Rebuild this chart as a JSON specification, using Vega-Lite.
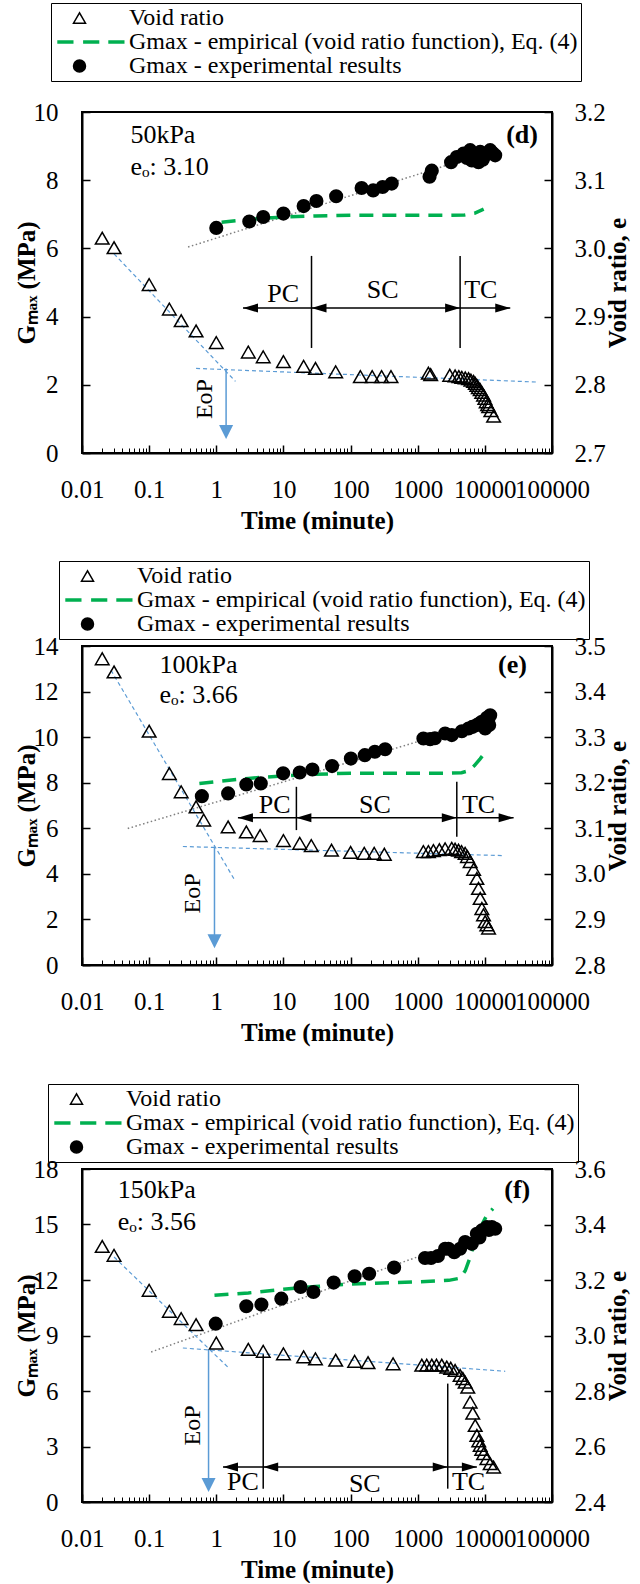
{
"$schema": "https://vega.github.io/schema/vega-lite/v6.json",
"padding": {"left": 13, "top": 1, "right": 0, "bottom": 0},
"bounds": "flush",
"spacing": 193,
"config": {
  "font": "Liberation Serif",
  "view": {"stroke": "black", "strokeWidth": 2},
  "axis": {"grid": false, "domainColor": "black", "domainWidth": 2, "tickColor": "black", "tickWidth": 1.5, "labelColor": "black", "titleColor": "black", "labelFont": "Liberation Serif", "titleFont": "Liberation Serif", "labelFontSize": 25, "titleFontSize": 25, "titleFontWeight": "bold", "labelFlush": false, "labelOverlap": false, "labelBound": false},
  "legend": {"labelFont": "Liberation Serif", "labelFontSize": 24, "labelColor": "black", "labelLimit": 1000}
},
"resolve": {"scale": {"shape": "independent", "fill": "independent", "stroke": "independent"}, "legend": {"shape": "independent", "fill": "independent", "stroke": "independent"}},
"datasets": {
  "d_void": [{"t":0.02,"e":3.015},{"t":0.03,"e":3.001},{"t":0.1,"e":2.947},{"t":0.2,"e":2.911},{"t":0.3,"e":2.894},{"t":0.5,"e":2.879},{"t":1,"e":2.862},{"t":3,"e":2.848},{"t":5,"e":2.841},{"t":10,"e":2.834},{"t":20,"e":2.827},{"t":30,"e":2.824},{"t":60,"e":2.819},{"t":140,"e":2.812},{"t":210,"e":2.812},{"t":290,"e":2.812},{"t":400,"e":2.812},{"t":1440,"e":2.817},{"t":1560,"e":2.815},{"t":3000,"e":2.814},{"t":3600,"e":2.813},{"t":4100,"e":2.812},{"t":4540,"e":2.811},{"t":5100,"e":2.81},{"t":5710,"e":2.809},{"t":6200,"e":2.807},{"t":6780,"e":2.805},{"t":7200,"e":2.802},{"t":7600,"e":2.799},{"t":8000,"e":2.796},{"t":8520,"e":2.793},{"t":9000,"e":2.789},{"t":9570,"e":2.785},{"t":10000,"e":2.78},{"t":10470,"e":2.775},{"t":11000,"e":2.771},{"t":11400,"e":2.768},{"t":12300,"e":2.762},{"t":13500,"e":2.754}],
  "d_gexp": [{"t":1,"g":6.6},{"t":3.1,"g":6.79},{"t":5,"g":6.92},{"t":10,"g":7.02},{"t":20,"g":7.24},{"t":31,"g":7.39},{"t":61,"g":7.53},{"t":146,"g":7.77},{"t":217,"g":7.7},{"t":300,"g":7.8},{"t":410,"g":7.9},{"t":1500,"g":8.1},{"t":1620,"g":8.28},{"t":3140,"g":8.53},{"t":3820,"g":8.68},{"t":4810,"g":8.78},{"t":5400,"g":8.65},{"t":6040,"g":8.88},{"t":6400,"g":8.58},{"t":7180,"g":8.73},{"t":8040,"g":8.53},{"t":8520,"g":8.83},{"t":9300,"g":8.6},{"t":10100,"g":8.73},{"t":11000,"g":8.8},{"t":12000,"g":8.88},{"t":13000,"g":8.8},{"t":14250,"g":8.73}],
  "d_gemp": [{"t":1.2,"g":6.77},{"t":3,"g":6.85},{"t":10,"g":6.92},{"t":30,"g":6.95},{"t":100,"g":6.97},{"t":1000,"g":6.97},{"t":3000,"g":6.97},{"t":5000,"g":6.98},{"t":7000,"g":7.03},{"t":9600,"g":7.15}],
  "d_trend": [{"t":0.38,"g":6.04},{"t":16000,"g":8.92}],
  "d_blue": [{"t":0.03,"e":2.992,"seg":"a"},{"t":1.93,"e":2.805,"seg":"a"},{"t":0.5,"e":2.824,"seg":"b"},{"t":60000,"e":2.804,"seg":"b"}],
  "d_eop": [{"t":1.4,"e1":2.824,"e2":2.73}],
  "d_eoph": [{"t":1.4,"e":2.7205}],
  "d_eopt": [{"t":0.668,"e":2.779,"label":"EoP"}],
  "d_vl": [{"t":26.2,"g1":3.08,"g2":5.78},{"t":4280,"g1":3.08,"g2":5.78}],
  "d_ha": [{"t1":2.5,"t2":23900,"g":4.25}],
  "d_heads": [{"t":2.5,"g":4.25,"dir":"left"},{"t":26.2,"g":4.25,"dir":"left"},{"t":4280,"g":4.25,"dir":"right"},{"t":23900,"g":4.25,"dir":"right"}],
  "d_phase": [{"t":9.9,"g":4.67,"label":"PC"},{"t":300,"g":4.77,"label":"SC"},{"t":8700,"g":4.77,"label":"TC"}],
  "d_info": [{"t":0.0526,"g":9.33,"label":"50kPa"},{"t":0.0526,"g":8.39,"label":"eₒ: 3.10"}],
  "d_tag": [{"t":61800,"g":9.33,"label":"(d)"}],

  "e_void": [{"t":0.02,"e":3.472},{"t":0.03,"e":3.443},{"t":0.1,"e":3.313},{"t":0.2,"e":3.22},{"t":0.3,"e":3.18},{"t":0.5,"e":3.147},{"t":0.65,"e":3.118},{"t":1.5,"e":3.103},{"t":2.8,"e":3.092},{"t":4.5,"e":3.084},{"t":10,"e":3.073},{"t":17.5,"e":3.067},{"t":26,"e":3.062},{"t":52,"e":3.052},{"t":100,"e":3.047},{"t":160,"e":3.045},{"t":225,"e":3.045},{"t":318,"e":3.043},{"t":1215,"e":3.049},{"t":1444,"e":3.049},{"t":1715,"e":3.051},{"t":2100,"e":3.053},{"t":2560,"e":3.055},{"t":3215,"e":3.056},{"t":3600,"e":3.054},{"t":4045,"e":3.052},{"t":4500,"e":3.049},{"t":5085,"e":3.045},{"t":5500,"e":3.038},{"t":6040,"e":3.027},{"t":6800,"e":3.01},{"t":7600,"e":2.99},{"t":8040,"e":2.968},{"t":8520,"e":2.946},{"t":9020,"e":2.924},{"t":9550,"e":2.91},{"t":10100,"e":2.895},{"t":10700,"e":2.888},{"t":11350,"e":2.881}],
  "e_gexp": [{"t":0.61,"g":7.41},{"t":1.5,"g":7.53},{"t":2.8,"g":7.92},{"t":4.6,"g":7.97},{"t":9.9,"g":8.41},{"t":17.5,"g":8.45},{"t":27,"g":8.58},{"t":53,"g":8.73},{"t":101,"g":9.06},{"t":163,"g":9.21},{"t":230,"g":9.36},{"t":327,"g":9.47},{"t":1215,"g":9.94},{"t":1530,"g":9.91},{"t":1800,"g":9.95},{"t":2560,"g":10.16},{"t":3215,"g":10.09},{"t":4540,"g":10.26},{"t":5710,"g":10.38},{"t":6500,"g":10.45},{"t":7600,"g":10.53},{"t":8300,"g":10.6},{"t":9020,"g":10.67},{"t":10100,"g":10.38},{"t":10720,"g":10.85},{"t":11200,"g":10.75},{"t":11600,"g":10.53},{"t":12000,"g":10.96}],
  "e_gemp": [{"t":0.56,"g":7.97},{"t":1,"g":8.05},{"t":3,"g":8.19},{"t":10,"g":8.3},{"t":30,"g":8.37},{"t":100,"g":8.42},{"t":1000,"g":8.42},{"t":3000,"g":8.42},{"t":4500,"g":8.44},{"t":5700,"g":8.52},{"t":7000,"g":8.75},{"t":8500,"g":9.05},{"t":10700,"g":9.43}],
  "e_trend": [{"t":0.048,"g":5.99},{"t":1190,"g":9.87}],
  "e_blue": [{"t":0.027,"e":3.447,"seg":"a"},{"t":1.87,"e":2.987,"seg":"a"},{"t":0.318,"e":3.06,"seg":"b"},{"t":19000,"e":3.04,"seg":"b"}],
  "e_eop": [{"t":0.94,"e1":3.06,"e2":2.85}],
  "e_eoph": [{"t":0.94,"e":2.837}],
  "e_eopt": [{"t":0.45,"e":2.957,"label":"EoP"}],
  "e_vl": [{"t":15.6,"g1":5.92,"g2":7.82},{"t":3820,"g1":5.63,"g2":8.04}],
  "e_ha": [{"t1":2.1,"t2":26800,"g":6.46}],
  "e_heads": [{"t":2.1,"g":6.46,"dir":"left"},{"t":15.6,"g":6.46,"dir":"left"},{"t":3820,"g":6.46,"dir":"right"},{"t":26800,"g":6.46,"dir":"right"}],
  "e_phase": [{"t":7.4,"g":7.02,"label":"PC"},{"t":230,"g":7.02,"label":"SC"},{"t":8040,"g":7.02,"label":"TC"}],
  "e_info": [{"t":0.1425,"g":13.15,"label":"100kPa"},{"t":0.1425,"g":11.84,"label":"eₒ: 3.66"}],
  "e_tag": [{"t":42400,"g":13.15,"label":"(e)"}],

  "f_void": [{"t":0.02,"e":3.321},{"t":0.03,"e":3.289},{"t":0.1,"e":3.163},{"t":0.2,"e":3.087},{"t":0.3,"e":3.061},{"t":0.5,"e":3.039},{"t":1,"e":2.973},{"t":3,"e":2.95},{"t":5,"e":2.943},{"t":10,"e":2.934},{"t":20,"e":2.923},{"t":30,"e":2.916},{"t":60,"e":2.911},{"t":115,"e":2.907},{"t":182,"e":2.902},{"t":430,"e":2.898},{"t":1150,"e":2.893},{"t":1360,"e":2.893},{"t":1620,"e":2.893},{"t":1900,"e":2.893},{"t":2280,"e":2.893},{"t":2710,"e":2.886},{"t":3100,"e":2.882},{"t":3600,"e":2.874},{"t":4280,"e":2.856},{"t":4700,"e":2.845},{"t":5085,"e":2.832},{"t":5570,"e":2.814},{"t":6040,"e":2.76},{"t":6600,"e":2.72},{"t":7180,"e":2.676},{"t":7600,"e":2.64},{"t":8100,"e":2.62},{"t":8520,"e":2.604},{"t":9000,"e":2.59},{"t":9570,"e":2.574},{"t":10720,"e":2.556},{"t":12000,"e":2.538},{"t":13500,"e":2.526}],
  "f_gexp": [{"t":0.98,"g":9.64},{"t":2.8,"g":10.58},{"t":4.7,"g":10.67},{"t":9.3,"g":10.99},{"t":18,"g":11.62},{"t":28,"g":11.35},{"t":56,"g":11.86},{"t":115,"g":12.2},{"t":189,"g":12.34},{"t":445,"g":12.67},{"t":1285,"g":13.19},{"t":1580,"g":13.19},{"t":2000,"g":13.3},{"t":2560,"g":13.69},{"t":2870,"g":13.69},{"t":3500,"g":13.5},{"t":4280,"g":13.69},{"t":5085,"g":14.05},{"t":6400,"g":13.96},{"t":7600,"g":14.5},{"t":8300,"g":14.3},{"t":9020,"g":14.68},{"t":10720,"g":14.86},{"t":11500,"g":14.7},{"t":12700,"g":14.86},{"t":14250,"g":14.77}],
  "f_gemp": [{"t":0.94,"g":11.17},{"t":3,"g":11.3},{"t":10,"g":11.5},{"t":30,"g":11.65},{"t":100,"g":11.78},{"t":1000,"g":11.9},{"t":2900,"g":11.98},{"t":4300,"g":12.1},{"t":5100,"g":12.5},{"t":6000,"g":13.2},{"t":6800,"g":13.87},{"t":8500,"g":14.8},{"t":10700,"g":15.5},{"t":13200,"g":15.86}],
  "f_trend": [{"t":0.107,"g":8.11},{"t":1150,"g":13.33}],
  "f_blue": [{"t":0.03,"e":3.283,"seg":"a"},{"t":1.58,"e":2.88,"seg":"a"},{"t":0.318,"e":2.955,"seg":"b"},{"t":20100,"e":2.871,"seg":"b"}],
  "f_eop": [{"t":0.767,"e1":2.95,"e2":2.45}],
  "f_eoph": [{"t":0.767,"e":2.436}],
  "f_eopt": [{"t":0.45,"e":2.676,"label":"EoP"}],
  "f_vl": [{"t":5,"g1":0.72,"g2":8.02},{"t":2800,"g1":0.72,"g2":6.4}],
  "f_ha": [{"t1":1.26,"t2":7600,"g":1.89}],
  "f_heads": [{"t":1.26,"g":1.89,"dir":"left"},{"t":5,"g":1.89,"dir":"left"},{"t":2800,"g":1.89,"dir":"right"},{"t":7600,"g":1.89,"dir":"right"}],
  "f_phase": [{"t":2.5,"g":1.08,"label":"PC"},{"t":163,"g":0.99,"label":"SC"},{"t":5710,"g":1.08,"label":"TC"}],
  "f_info": [{"t":0.034,"g":16.85,"label":"150kPa"},{"t":0.034,"g":15.14,"label":"eₒ: 3.56"}],
  "f_tag": [{"t":47500,"g":16.85,"label":"(f)"}]
},
"vconcat": [
{
 "width": 470, "height": 341,
 "resolve": {"scale": {"y": "independent"}, "axis": {"x": "independent"}},
 "layer": [
  {"layer": [
   {"data": {"name": "d_trend"}, "mark": {"type": "line", "color": "#7f7f7f", "strokeWidth": 1.5, "strokeDash": [1.5, 2.5]},
    "encoding": {
     "x": {"field": "t", "type": "quantitative", "scale": {"type": "log", "domain": [0.01, 100000], "nice": false}, "axis": {"orient": "bottom", "values": [0.01, 0.1, 1, 10, 100, 1000, 10000, 100000], "format": "~g", "title": "Time (minute)", "tickSize": -8, "labelPadding": 32, "titlePadding": 6}},
     "y": {"field": "g", "type": "quantitative", "scale": {"domain": [0, 10], "nice": false}, "axis": {"orient": "left", "values": [0, 2, 4, 6, 8, 10], "format": "d", "title": "Gₘₐₓ (MPa)", "tickSize": -8, "labelPadding": 32, "titlePadding": -6}}}},
   {"data": {"name": "d_gemp"}, "mark": {"type": "line", "color": "#00B050", "strokeWidth": 3.5, "strokeDash": [14, 9]},
    "encoding": {"x": {"field": "t", "type": "quantitative", "scale": {"type": "log"}}, "y": {"field": "g", "type": "quantitative"}}},
   {"data": {"name": "d_gexp"}, "mark": {"type": "point", "shape": "circle", "filled": true, "color": "black", "size": 200, "opacity": 1},
    "encoding": {"x": {"field": "t", "type": "quantitative", "scale": {"type": "log"}}, "y": {"field": "g", "type": "quantitative"}}},
   {"data": {"name": "d_vl"}, "mark": {"type": "rule", "color": "black", "strokeWidth": 1.5},
    "encoding": {"x": {"field": "t", "type": "quantitative", "scale": {"type": "log"}}, "y": {"field": "g1", "type": "quantitative"}, "y2": {"field": "g2"}}},
   {"data": {"name": "d_ha"}, "mark": {"type": "rule", "color": "black", "strokeWidth": 1.5},
    "encoding": {"x": {"field": "t1", "type": "quantitative", "scale": {"type": "log"}}, "x2": {"field": "t2"}, "y": {"field": "g", "type": "quantitative"}}},
   {"data": {"name": "d_heads"}, "transform": [{"filter": "datum.dir === 'left'"}], "mark": {"type": "point", "shape": "M0,0L2,-0.6L2,0.6Z", "filled": true, "color": "black", "size": 225, "opacity": 1},
    "encoding": {"x": {"field": "t", "type": "quantitative", "scale": {"type": "log"}}, "y": {"field": "g", "type": "quantitative"}}},
   {"data": {"name": "d_heads"}, "transform": [{"filter": "datum.dir === 'right'"}], "mark": {"type": "point", "shape": "M0,0L-2,-0.6L-2,0.6Z", "filled": true, "color": "black", "size": 225, "opacity": 1},
    "encoding": {"x": {"field": "t", "type": "quantitative", "scale": {"type": "log"}}, "y": {"field": "g", "type": "quantitative"}}},
   {"data": {"name": "d_phase"}, "mark": {"type": "text", "fontSize": 26, "color": "black", "align": "center", "baseline": "middle"},
    "encoding": {"x": {"field": "t", "type": "quantitative", "scale": {"type": "log"}}, "y": {"field": "g", "type": "quantitative"}, "text": {"field": "label", "type": "nominal"}}},
   {"data": {"name": "d_info"}, "mark": {"type": "text", "fontSize": 26, "color": "black", "align": "left", "baseline": "middle"},
    "encoding": {"x": {"field": "t", "type": "quantitative", "scale": {"type": "log"}}, "y": {"field": "g", "type": "quantitative"}, "text": {"field": "label", "type": "nominal"}}},
   {"data": {"name": "d_tag"}, "mark": {"type": "text", "fontSize": 26, "fontWeight": "bold", "color": "black", "align": "right", "baseline": "middle"},
    "encoding": {"x": {"field": "t", "type": "quantitative", "scale": {"type": "log"}}, "y": {"field": "g", "type": "quantitative"}, "text": {"field": "label", "type": "nominal"}}}
  ]},
  {"layer": [
   {"data": {"name": "d_blue"}, "mark": {"type": "line", "color": "#5B9BD5", "strokeWidth": 1.2, "strokeDash": [4, 3]},
    "encoding": {
     "x": {"field": "t", "type": "quantitative", "scale": {"type": "log", "domain": [0.01, 100000], "nice": false}, "axis": {"orient": "bottom", "values": [0.02,0.03,0.04,0.05,0.06,0.07,0.08,0.09,0.2,0.3,0.4,0.5,0.6,0.7,0.8,0.9,2,3,4,5,6,7,8,9,20,30,40,50,60,70,80,90,200,300,400,500,600,700,800,900,2000,3000,4000,5000,6000,7000,8000,9000,20000,30000,40000,50000,60000,70000,80000,90000], "labels": false, "domain": false, "title": null, "tickSize": -5, "tickWidth": 1}},
     "y": {"field": "e", "type": "quantitative", "scale": {"domain": [2.7, 3.2], "nice": false}, "axis": {"orient": "right", "values": [2.7, 2.8, 2.9, 3.0, 3.1, 3.2], "format": ".1f", "title": "Void ratio, e", "titleAngle": 270, "titleBaseline": "top", "tickSize": -8, "labelPadding": 30, "titlePadding": 0}},
     "detail": {"field": "seg", "type": "nominal"}}},
   {"data": {"name": "d_eop"}, "mark": {"type": "rule", "color": "#5B9BD5", "strokeWidth": 1.5},
    "encoding": {"x": {"field": "t", "type": "quantitative", "scale": {"type": "log"}}, "y": {"field": "e1", "type": "quantitative"}, "y2": {"field": "e2"}}},
   {"data": {"name": "d_eoph"}, "mark": {"type": "point", "shape": "M0,0L-1,-2L1,-2Z", "filled": true, "color": "#5B9BD5", "size": 196, "opacity": 1},
    "encoding": {"x": {"field": "t", "type": "quantitative", "scale": {"type": "log"}}, "y": {"field": "e", "type": "quantitative"}}},
   {"data": {"name": "d_eopt"}, "mark": {"type": "text", "fontSize": 24, "angle": 270, "color": "black", "align": "center", "baseline": "middle"},
    "encoding": {"x": {"field": "t", "type": "quantitative", "scale": {"type": "log"}}, "y": {"field": "e", "type": "quantitative"}, "text": {"field": "label", "type": "nominal"}}},
   {"data": {"name": "d_void"}, "mark": {"type": "point", "size": 185, "strokeWidth": 1.5, "opacity": 1},
    "encoding": {
     "x": {"field": "t", "type": "quantitative", "scale": {"type": "log"}},
     "y": {"field": "e", "type": "quantitative"},
     "shape": {"datum": "Void ratio", "type": "nominal", "scale": {"domain": ["Void ratio", "Gmax - empirical (void ratio function), Eq. (4)", "Gmax - experimental results"], "range": ["triangle-up", "M-3.7,-0.3h2.7v0.6h-2.7z M0.6,-0.3h2.7v0.6h-2.7z M4.8,-0.3h2.7v0.6h-2.7z", "circle"]},
       "legend": {"title": null, "orient": "none", "legendX": -31, "legendY": -109, "direction": "vertical", "symbolSize": 144, "symbolStrokeWidth": 1.5, "symbolOffset": 13.5, "labelOffset": 37.5, "padding": 3, "rowPadding": 0, "strokeColor": "black"}},
     "fill": {"datum": "Void ratio", "type": "nominal", "scale": {"domain": ["Void ratio", "Gmax - empirical (void ratio function), Eq. (4)", "Gmax - experimental results"], "range": ["transparent", "#00B050", "black"]},
       "legend": {"title": null, "orient": "none", "legendX": -31, "legendY": -109, "direction": "vertical", "symbolSize": 144, "symbolStrokeWidth": 1.5, "symbolOffset": 13.5, "labelOffset": 37.5, "padding": 3, "rowPadding": 0, "strokeColor": "black"}},
     "stroke": {"datum": "Void ratio", "type": "nominal", "scale": {"domain": ["Void ratio", "Gmax - empirical (void ratio function), Eq. (4)", "Gmax - experimental results"], "range": ["black", "transparent", "black"]},
       "legend": {"title": null, "orient": "none", "legendX": -31, "legendY": -109, "direction": "vertical", "symbolSize": 144, "symbolStrokeWidth": 1.5, "symbolOffset": 13.5, "labelOffset": 37.5, "padding": 3, "rowPadding": 0, "strokeColor": "black"}}}}
  ]}
 ]
},
{
 "bounds": "flush",
 "spacing": 204,
 "resolve": {"scale": {"shape": "independent", "fill": "independent", "stroke": "independent"}, "legend": {"shape": "independent", "fill": "independent", "stroke": "independent"}},
 "vconcat": [
{
 "width": 470, "height": 319,
 "resolve": {"scale": {"y": "independent"}, "axis": {"x": "independent"}},
 "layer": [
  {"layer": [
   {"data": {"name": "e_trend"}, "mark": {"type": "line", "color": "#7f7f7f", "strokeWidth": 1.5, "strokeDash": [1.5, 2.5]},
    "encoding": {
     "x": {"field": "t", "type": "quantitative", "scale": {"type": "log", "domain": [0.01, 100000], "nice": false}, "axis": {"orient": "bottom", "values": [0.01, 0.1, 1, 10, 100, 1000, 10000, 100000], "format": "~g", "title": "Time (minute)", "tickSize": -8, "labelPadding": 32, "titlePadding": 6}},
     "y": {"field": "g", "type": "quantitative", "scale": {"domain": [0, 14], "nice": false}, "axis": {"orient": "left", "values": [0, 2, 4, 6, 8, 10, 12, 14], "format": "d", "title": "Gₘₐₓ (MPa)", "tickSize": -8, "labelPadding": 32, "titlePadding": -6}}}},
   {"data": {"name": "e_gemp"}, "mark": {"type": "line", "color": "#00B050", "strokeWidth": 3.5, "strokeDash": [14, 9]},
    "encoding": {"x": {"field": "t", "type": "quantitative", "scale": {"type": "log"}}, "y": {"field": "g", "type": "quantitative"}}},
   {"data": {"name": "e_gexp"}, "mark": {"type": "point", "shape": "circle", "filled": true, "color": "black", "size": 200, "opacity": 1},
    "encoding": {"x": {"field": "t", "type": "quantitative", "scale": {"type": "log"}}, "y": {"field": "g", "type": "quantitative"}}},
   {"data": {"name": "e_vl"}, "mark": {"type": "rule", "color": "black", "strokeWidth": 1.5},
    "encoding": {"x": {"field": "t", "type": "quantitative", "scale": {"type": "log"}}, "y": {"field": "g1", "type": "quantitative"}, "y2": {"field": "g2"}}},
   {"data": {"name": "e_ha"}, "mark": {"type": "rule", "color": "black", "strokeWidth": 1.5},
    "encoding": {"x": {"field": "t1", "type": "quantitative", "scale": {"type": "log"}}, "x2": {"field": "t2"}, "y": {"field": "g", "type": "quantitative"}}},
   {"data": {"name": "e_heads"}, "transform": [{"filter": "datum.dir === 'left'"}], "mark": {"type": "point", "shape": "M0,0L2,-0.6L2,0.6Z", "filled": true, "color": "black", "size": 225, "opacity": 1},
    "encoding": {"x": {"field": "t", "type": "quantitative", "scale": {"type": "log"}}, "y": {"field": "g", "type": "quantitative"}}},
   {"data": {"name": "e_heads"}, "transform": [{"filter": "datum.dir === 'right'"}], "mark": {"type": "point", "shape": "M0,0L-2,-0.6L-2,0.6Z", "filled": true, "color": "black", "size": 225, "opacity": 1},
    "encoding": {"x": {"field": "t", "type": "quantitative", "scale": {"type": "log"}}, "y": {"field": "g", "type": "quantitative"}}},
   {"data": {"name": "e_phase"}, "mark": {"type": "text", "fontSize": 26, "color": "black", "align": "center", "baseline": "middle"},
    "encoding": {"x": {"field": "t", "type": "quantitative", "scale": {"type": "log"}}, "y": {"field": "g", "type": "quantitative"}, "text": {"field": "label", "type": "nominal"}}},
   {"data": {"name": "e_info"}, "mark": {"type": "text", "fontSize": 26, "color": "black", "align": "left", "baseline": "middle"},
    "encoding": {"x": {"field": "t", "type": "quantitative", "scale": {"type": "log"}}, "y": {"field": "g", "type": "quantitative"}, "text": {"field": "label", "type": "nominal"}}},
   {"data": {"name": "e_tag"}, "mark": {"type": "text", "fontSize": 26, "fontWeight": "bold", "color": "black", "align": "right", "baseline": "middle"},
    "encoding": {"x": {"field": "t", "type": "quantitative", "scale": {"type": "log"}}, "y": {"field": "g", "type": "quantitative"}, "text": {"field": "label", "type": "nominal"}}}
  ]},
  {"layer": [
   {"data": {"name": "e_blue"}, "mark": {"type": "line", "color": "#5B9BD5", "strokeWidth": 1.2, "strokeDash": [4, 3]},
    "encoding": {
     "x": {"field": "t", "type": "quantitative", "scale": {"type": "log", "domain": [0.01, 100000], "nice": false}, "axis": {"orient": "bottom", "values": [0.02,0.03,0.04,0.05,0.06,0.07,0.08,0.09,0.2,0.3,0.4,0.5,0.6,0.7,0.8,0.9,2,3,4,5,6,7,8,9,20,30,40,50,60,70,80,90,200,300,400,500,600,700,800,900,2000,3000,4000,5000,6000,7000,8000,9000,20000,30000,40000,50000,60000,70000,80000,90000], "labels": false, "domain": false, "title": null, "tickSize": -5, "tickWidth": 1}},
     "y": {"field": "e", "type": "quantitative", "scale": {"domain": [2.8, 3.5], "nice": false}, "axis": {"orient": "right", "values": [2.8, 2.9, 3.0, 3.1, 3.2, 3.3, 3.4, 3.5], "format": ".1f", "title": "Void ratio, e", "titleAngle": 270, "titleBaseline": "top", "tickSize": -8, "labelPadding": 30, "titlePadding": 0}},
     "detail": {"field": "seg", "type": "nominal"}}},
   {"data": {"name": "e_eop"}, "mark": {"type": "rule", "color": "#5B9BD5", "strokeWidth": 1.5},
    "encoding": {"x": {"field": "t", "type": "quantitative", "scale": {"type": "log"}}, "y": {"field": "e1", "type": "quantitative"}, "y2": {"field": "e2"}}},
   {"data": {"name": "e_eoph"}, "mark": {"type": "point", "shape": "M0,0L-1,-2L1,-2Z", "filled": true, "color": "#5B9BD5", "size": 196, "opacity": 1},
    "encoding": {"x": {"field": "t", "type": "quantitative", "scale": {"type": "log"}}, "y": {"field": "e", "type": "quantitative"}}},
   {"data": {"name": "e_eopt"}, "mark": {"type": "text", "fontSize": 24, "angle": 270, "color": "black", "align": "center", "baseline": "middle"},
    "encoding": {"x": {"field": "t", "type": "quantitative", "scale": {"type": "log"}}, "y": {"field": "e", "type": "quantitative"}, "text": {"field": "label", "type": "nominal"}}},
   {"data": {"name": "e_void"}, "mark": {"type": "point", "size": 185, "strokeWidth": 1.5, "opacity": 1},
    "encoding": {
     "x": {"field": "t", "type": "quantitative", "scale": {"type": "log"}},
     "y": {"field": "e", "type": "quantitative"},
     "shape": {"datum": "Void ratio", "type": "nominal", "scale": {"domain": ["Void ratio", "Gmax - empirical (void ratio function), Eq. (4)", "Gmax - experimental results"], "range": ["triangle-up", "M-3.7,-0.3h2.7v0.6h-2.7z M0.6,-0.3h2.7v0.6h-2.7z M4.8,-0.3h2.7v0.6h-2.7z", "circle"]},
       "legend": {"title": null, "orient": "none", "legendX": -23, "legendY": -85, "direction": "vertical", "symbolSize": 144, "symbolStrokeWidth": 1.5, "symbolOffset": 13.5, "labelOffset": 37.5, "padding": 3, "rowPadding": 0, "strokeColor": "black"}},
     "fill": {"datum": "Void ratio", "type": "nominal", "scale": {"domain": ["Void ratio", "Gmax - empirical (void ratio function), Eq. (4)", "Gmax - experimental results"], "range": ["transparent", "#00B050", "black"]},
       "legend": {"title": null, "orient": "none", "legendX": -23, "legendY": -85, "direction": "vertical", "symbolSize": 144, "symbolStrokeWidth": 1.5, "symbolOffset": 13.5, "labelOffset": 37.5, "padding": 3, "rowPadding": 0, "strokeColor": "black"}},
     "stroke": {"datum": "Void ratio", "type": "nominal", "scale": {"domain": ["Void ratio", "Gmax - empirical (void ratio function), Eq. (4)", "Gmax - experimental results"], "range": ["black", "transparent", "black"]},
       "legend": {"title": null, "orient": "none", "legendX": -23, "legendY": -85, "direction": "vertical", "symbolSize": 144, "symbolStrokeWidth": 1.5, "symbolOffset": 13.5, "labelOffset": 37.5, "padding": 3, "rowPadding": 0, "strokeColor": "black"}}}}
  ]}
 ]
},
{
 "width": 470, "height": 333,
 "resolve": {"scale": {"y": "independent"}, "axis": {"x": "independent"}},
 "layer": [
  {"layer": [
   {"data": {"name": "f_trend"}, "mark": {"type": "line", "color": "#7f7f7f", "strokeWidth": 1.5, "strokeDash": [1.5, 2.5]},
    "encoding": {
     "x": {"field": "t", "type": "quantitative", "scale": {"type": "log", "domain": [0.01, 100000], "nice": false}, "axis": {"orient": "bottom", "values": [0.01, 0.1, 1, 10, 100, 1000, 10000, 100000], "format": "~g", "title": "Time (minute)", "tickSize": -8, "labelPadding": 32, "titlePadding": 6}},
     "y": {"field": "g", "type": "quantitative", "scale": {"domain": [0, 18], "nice": false}, "axis": {"orient": "left", "values": [0, 3, 6, 9, 12, 15, 18], "format": "d", "title": "Gₘₐₓ (MPa)", "tickSize": -8, "labelPadding": 32, "titlePadding": -6}}}},
   {"data": {"name": "f_gemp"}, "mark": {"type": "line", "color": "#00B050", "strokeWidth": 3.5, "strokeDash": [14, 9]},
    "encoding": {"x": {"field": "t", "type": "quantitative", "scale": {"type": "log"}}, "y": {"field": "g", "type": "quantitative"}}},
   {"data": {"name": "f_gexp"}, "mark": {"type": "point", "shape": "circle", "filled": true, "color": "black", "size": 200, "opacity": 1},
    "encoding": {"x": {"field": "t", "type": "quantitative", "scale": {"type": "log"}}, "y": {"field": "g", "type": "quantitative"}}},
   {"data": {"name": "f_vl"}, "mark": {"type": "rule", "color": "black", "strokeWidth": 1.5},
    "encoding": {"x": {"field": "t", "type": "quantitative", "scale": {"type": "log"}}, "y": {"field": "g1", "type": "quantitative"}, "y2": {"field": "g2"}}},
   {"data": {"name": "f_ha"}, "mark": {"type": "rule", "color": "black", "strokeWidth": 1.5},
    "encoding": {"x": {"field": "t1", "type": "quantitative", "scale": {"type": "log"}}, "x2": {"field": "t2"}, "y": {"field": "g", "type": "quantitative"}}},
   {"data": {"name": "f_heads"}, "transform": [{"filter": "datum.dir === 'left'"}], "mark": {"type": "point", "shape": "M0,0L2,-0.6L2,0.6Z", "filled": true, "color": "black", "size": 225, "opacity": 1},
    "encoding": {"x": {"field": "t", "type": "quantitative", "scale": {"type": "log"}}, "y": {"field": "g", "type": "quantitative"}}},
   {"data": {"name": "f_heads"}, "transform": [{"filter": "datum.dir === 'right'"}], "mark": {"type": "point", "shape": "M0,0L-2,-0.6L-2,0.6Z", "filled": true, "color": "black", "size": 225, "opacity": 1},
    "encoding": {"x": {"field": "t", "type": "quantitative", "scale": {"type": "log"}}, "y": {"field": "g", "type": "quantitative"}}},
   {"data": {"name": "f_phase"}, "mark": {"type": "text", "fontSize": 26, "color": "black", "align": "center", "baseline": "middle"},
    "encoding": {"x": {"field": "t", "type": "quantitative", "scale": {"type": "log"}}, "y": {"field": "g", "type": "quantitative"}, "text": {"field": "label", "type": "nominal"}}},
   {"data": {"name": "f_info"}, "mark": {"type": "text", "fontSize": 26, "color": "black", "align": "left", "baseline": "middle"},
    "encoding": {"x": {"field": "t", "type": "quantitative", "scale": {"type": "log"}}, "y": {"field": "g", "type": "quantitative"}, "text": {"field": "label", "type": "nominal"}}},
   {"data": {"name": "f_tag"}, "mark": {"type": "text", "fontSize": 26, "fontWeight": "bold", "color": "black", "align": "right", "baseline": "middle"},
    "encoding": {"x": {"field": "t", "type": "quantitative", "scale": {"type": "log"}}, "y": {"field": "g", "type": "quantitative"}, "text": {"field": "label", "type": "nominal"}}}
  ]},
  {"layer": [
   {"data": {"name": "f_blue"}, "mark": {"type": "line", "color": "#5B9BD5", "strokeWidth": 1.2, "strokeDash": [4, 3]},
    "encoding": {
     "x": {"field": "t", "type": "quantitative", "scale": {"type": "log", "domain": [0.01, 100000], "nice": false}, "axis": {"orient": "bottom", "values": [0.02,0.03,0.04,0.05,0.06,0.07,0.08,0.09,0.2,0.3,0.4,0.5,0.6,0.7,0.8,0.9,2,3,4,5,6,7,8,9,20,30,40,50,60,70,80,90,200,300,400,500,600,700,800,900,2000,3000,4000,5000,6000,7000,8000,9000,20000,30000,40000,50000,60000,70000,80000,90000], "labels": false, "domain": false, "title": null, "tickSize": -5, "tickWidth": 1}},
     "y": {"field": "e", "type": "quantitative", "scale": {"domain": [2.4, 3.6], "nice": false}, "axis": {"orient": "right", "values": [2.4, 2.6, 2.8, 3.0, 3.2, 3.4, 3.6], "format": ".1f", "title": "Void ratio, e", "titleAngle": 270, "titleBaseline": "top", "tickSize": -8, "labelPadding": 30, "titlePadding": 0}},
     "detail": {"field": "seg", "type": "nominal"}}},
   {"data": {"name": "f_eop"}, "mark": {"type": "rule", "color": "#5B9BD5", "strokeWidth": 1.5},
    "encoding": {"x": {"field": "t", "type": "quantitative", "scale": {"type": "log"}}, "y": {"field": "e1", "type": "quantitative"}, "y2": {"field": "e2"}}},
   {"data": {"name": "f_eoph"}, "mark": {"type": "point", "shape": "M0,0L-1,-2L1,-2Z", "filled": true, "color": "#5B9BD5", "size": 196, "opacity": 1},
    "encoding": {"x": {"field": "t", "type": "quantitative", "scale": {"type": "log"}}, "y": {"field": "e", "type": "quantitative"}}},
   {"data": {"name": "f_eopt"}, "mark": {"type": "text", "fontSize": 24, "angle": 270, "color": "black", "align": "center", "baseline": "middle"},
    "encoding": {"x": {"field": "t", "type": "quantitative", "scale": {"type": "log"}}, "y": {"field": "e", "type": "quantitative"}, "text": {"field": "label", "type": "nominal"}}},
   {"data": {"name": "f_void"}, "mark": {"type": "point", "size": 185, "strokeWidth": 1.5, "opacity": 1},
    "encoding": {
     "x": {"field": "t", "type": "quantitative", "scale": {"type": "log"}},
     "y": {"field": "e", "type": "quantitative"},
     "shape": {"datum": "Void ratio", "type": "nominal", "scale": {"domain": ["Void ratio", "Gmax - empirical (void ratio function), Eq. (4)", "Gmax - experimental results"], "range": ["triangle-up", "M-3.7,-0.3h2.7v0.6h-2.7z M0.6,-0.3h2.7v0.6h-2.7z M4.8,-0.3h2.7v0.6h-2.7z", "circle"]},
       "legend": {"title": null, "orient": "none", "legendX": -34, "legendY": -85, "direction": "vertical", "symbolSize": 144, "symbolStrokeWidth": 1.5, "symbolOffset": 13.5, "labelOffset": 37.5, "padding": 3, "rowPadding": 0, "strokeColor": "black"}},
     "fill": {"datum": "Void ratio", "type": "nominal", "scale": {"domain": ["Void ratio", "Gmax - empirical (void ratio function), Eq. (4)", "Gmax - experimental results"], "range": ["transparent", "#00B050", "black"]},
       "legend": {"title": null, "orient": "none", "legendX": -34, "legendY": -85, "direction": "vertical", "symbolSize": 144, "symbolStrokeWidth": 1.5, "symbolOffset": 13.5, "labelOffset": 37.5, "padding": 3, "rowPadding": 0, "strokeColor": "black"}},
     "stroke": {"datum": "Void ratio", "type": "nominal", "scale": {"domain": ["Void ratio", "Gmax - empirical (void ratio function), Eq. (4)", "Gmax - experimental results"], "range": ["black", "transparent", "black"]},
       "legend": {"title": null, "orient": "none", "legendX": -34, "legendY": -85, "direction": "vertical", "symbolSize": 144, "symbolStrokeWidth": 1.5, "symbolOffset": 13.5, "labelOffset": 37.5, "padding": 3, "rowPadding": 0, "strokeColor": "black"}}}}
  ]}
 ]
}
 ]
}
]
}
